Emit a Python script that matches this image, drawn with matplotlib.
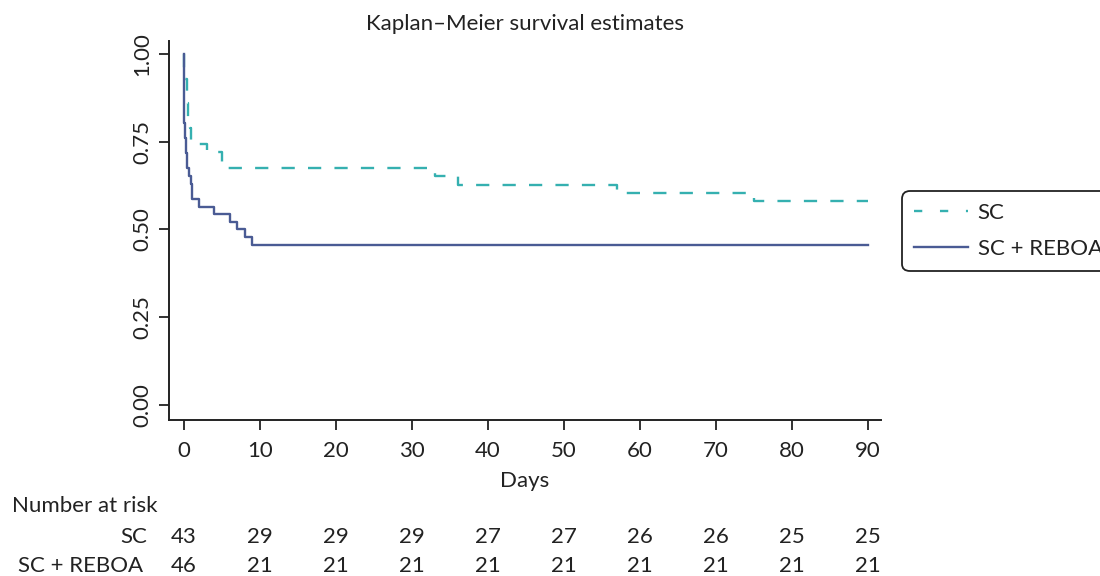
import numpy as np
import matplotlib
matplotlib.use("Agg")
import matplotlib.pyplot as plt
from matplotlib.lines import Line2D

plt.rcParams['font.family'] = ['Lato', 'DejaVu Sans']

# Kaplan-Meier step data (days, survival)
sc_days = [0, 0, 0.35, 0.5, 0.8, 0.95, 3, 5, 33, 36, 57, 75, 90]
sc_surv = [1.0, 0.93, 0.86, 0.814, 0.79, 0.744, 0.721, 0.674, 0.651, 0.628, 0.605, 0.581, 0.581]

reboa_days = [0, 0, 0.15, 0.3, 0.4, 0.65, 0.9, 1.05, 2, 4, 6, 7, 8, 9, 90]
reboa_surv = [1.0, 0.804, 0.761, 0.717, 0.674, 0.652, 0.630, 0.587, 0.565, 0.543, 0.522, 0.5, 0.478, 0.457, 0.457]

risk_days = [0, 10, 20, 30, 40, 50, 60, 70, 80, 90]
risk_sc = [43, 29, 29, 29, 27, 27, 26, 26, 25, 25]
risk_reboa = [46, 21, 21, 21, 21, 21, 21, 21, 21, 21]

SC_COLOR = '#35b0b0'
REBOA_COLOR = '#4a5b94'
INK = '#222222'
FS = 16

W, H = 1100, 576
fig = plt.figure(figsize=(W / 100, H / 100), dpi=100)
ax = fig.add_axes([169 / W, (H - 420) / H, (881 - 169) / W, (420 - 40.7) / H])

ax.step(sc_days, sc_surv, where='post', color=SC_COLOR, lw=1.7,
        linestyle=(0, (5.6, 5.6)))
ax.step(reboa_days, reboa_surv, where='post', color=REBOA_COLOR, lw=1.7)

ax.set_xlim(-1.97, 91.7)
ax.set_ylim(-0.043, 1.038)
ax.set_xticks(risk_days)
ax.set_yticks([0, 0.25, 0.5, 0.75, 1.0])
ax.set_yticklabels(['0.00', '0.25', '0.50', '0.75', '1.00'], rotation=90, va='center')
for s in ['top', 'right']:
    ax.spines[s].set_visible(False)
for s in ['left', 'bottom']:
    ax.spines[s].set_linewidth(1.4)
    ax.spines[s].set_color(INK)
ax.tick_params(axis='both', direction='out', length=7, width=1.3, colors=INK,
               labelsize=FS, labelcolor=INK)
ax.tick_params(axis='x', pad=8)
ax.tick_params(axis='y', pad=5)
ax.set_xlabel('Days', fontsize=FS, color=INK, labelpad=7)
ax.set_title('Kaplan\u2013Meier survival estimates', fontsize=FS, color=INK, pad=8)

# legend
handles = [Line2D([0], [0], color=SC_COLOR, lw=1.7, linestyle=(0, (3.5, 7.5))),
           Line2D([0], [0], color=REBOA_COLOR, lw=1.7)]
leg = fig.legend(handles, ['SC', 'SC + REBOA'], loc='upper left',
                 bbox_to_anchor=(902 / W, 1 - 191 / H), fontsize=FS,
                 frameon=True, fancybox=True, edgecolor=INK, framealpha=1,
                 handlelength=2.4, handletextpad=0.45, borderpad=0.55,
                 labelspacing=0.72, borderaxespad=0)
leg.get_frame().set_linewidth(1.3)
leg.get_frame().set_boxstyle('round', pad=0, rounding_size=0.35)
for t in leg.get_texts():
    t.set_color(INK)

# number at risk table
def xpix(d):
    return ax.transData.transform((d, 0))[0] / W

fig.text(12 / W, 1 - 506 / H, 'Number at risk', fontsize=FS, color=INK,
         ha='left', va='center')
fig.text(147 / W, 1 - 537 / H, 'SC', fontsize=FS, color=INK, ha='right', va='center')
fig.text(143 / W, 1 - 566 / H, 'SC + REBOA', fontsize=FS, color=INK, ha='right', va='center')
for d, a, b in zip(risk_days, risk_sc, risk_reboa):
    fig.text(xpix(d), 1 - 537 / H, str(a), fontsize=FS, color=INK, ha='center', va='center')
    fig.text(xpix(d), 1 - 566 / H, str(b), fontsize=FS, color=INK, ha='center', va='center')

fig.savefig('out.png', dpi=100)
